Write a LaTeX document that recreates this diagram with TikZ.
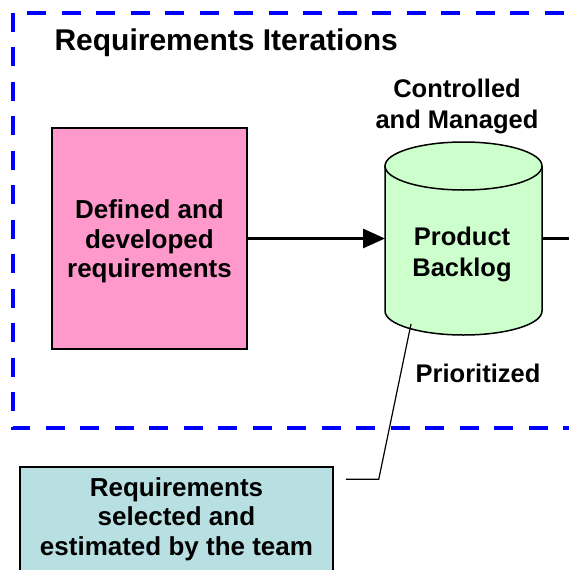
\documentclass[tikz,border=0pt]{standalone}
\usepackage{fontspec}
\setmainfont{Liberation Sans}
\usetikzlibrary{arrows.meta}

\definecolor{reqpink}{HTML}{FF99CC}
\definecolor{backloggreen}{HTML}{CCFFCC}
\definecolor{teamteal}{HTML}{B8E0E3}

\tikzset{
  iterframe/.style={draw=blue, line width=4pt, dash pattern=on 19pt off 15.5pt},
  boxlabel/.style={font=\bfseries\fontsize{26}{29.5}\selectfont, align=center},
  sidelabel/.style={font=\bfseries\fontsize{25.5}{31}\selectfont, align=center},
  reqbox/.style={draw=black, line width=1.5pt, inner sep=0pt, boxlabel},
  flow/.style={line width=3pt, -{Triangle[length=22pt,width=19pt]}},
  plainflow/.style={line width=3pt},
  callout/.style={line width=1.2pt},
}

\begin{document}
\begin{tikzpicture}[x=1pt, y=-1pt]
  \useasboundingbox (0,0) rectangle (569,570);
  \clip (0,0) rectangle (569,570);

  % iteration frame (open on the right)
  \draw[iterframe] (12.7,12.7) -- (12.7,428) -- (600,428);
  \draw[iterframe, dash phase=20.2pt] (12.7,12.7) -- (600,12.7);
  \node[font=\bfseries\fontsize{30}{34}\selectfont, anchor=base west]
    (title) at (51,50.5) {Requirements Iterations};

  % defined requirements
  \node[reqbox, fill=reqpink, minimum width=195pt, minimum height=221pt]
    (defined) at (149.5,238.5) {\rule{0pt}{25pt}Defined and\\developed\\requirements};

  % product backlog cylinder
  \draw[line width=1.5pt, fill=backloggreen]
    (385,166) -- (385,311)
    arc[start angle=180, end angle=360, x radius=78.5pt, y radius=24pt]
    -- (542,166);
  \draw[line width=1.5pt, fill=backloggreen]
    (463.5,166) ellipse[x radius=78.5pt, y radius=24pt];
  \node[sidelabel] (backlog) at (462,254) {Product\\Backlog};
  \coordinate (cylleft) at (385,238.5);
  \coordinate (cylright) at (542,238.5);
  \coordinate (cylbase) at (411,324);
  \coordinate (exit) at (569,238.5);

  \node[sidelabel, anchor=base] (managed) at (457,128) {Controlled\\and Managed};
  \node[sidelabel, anchor=base] (prio) at (478,382) {Prioritized};

  % flows
  \draw[flow] (defined.east) -- (cylleft);
  \draw[plainflow] (cylright) -- (exit);

  % team selection
  \node[reqbox, fill=teamteal, minimum width=313pt, minimum height=104pt]
    (team) at (176.5,519) {Requirements\\selected and\\estimated by the team};
  \draw[callout] ([xshift=12pt,yshift=-13pt]team.north east) -- ++(33,0) -- (cylbase);
\end{tikzpicture}
\end{document}
